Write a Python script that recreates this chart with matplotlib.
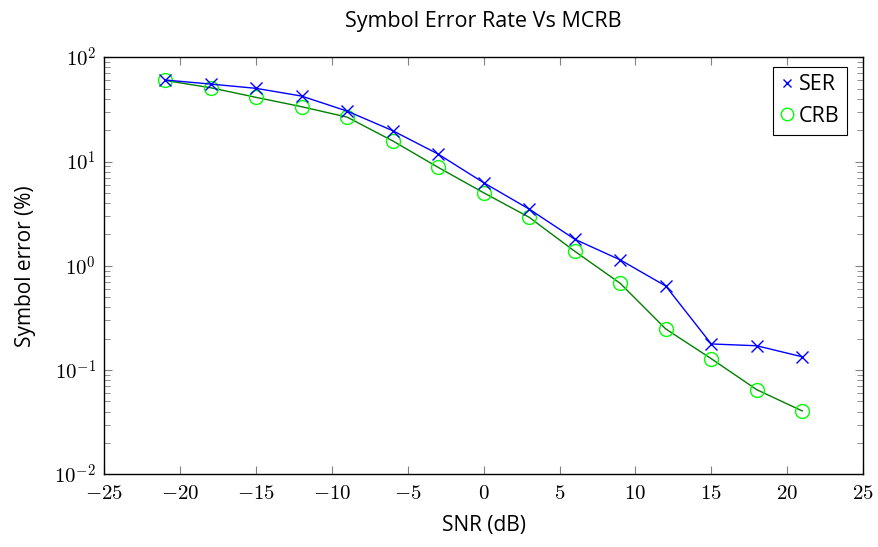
import matplotlib.pyplot as plt
from matplotlib.lines import Line2D
from matplotlib import ticker
import numpy as np

# данные
snr = [-21, -18, -15, -12, -9, -6, -3, 0, 3, 6, 9, 12, 15, 18, 21]
ser = [60.6, 55.4, 50.4, 42.5, 30.5, 19.8, 11.8, 6.27, 3.5, 1.80, 1.14, 0.64, 0.178, 0.171, 0.134]
crb = [60.0, 51.1, 41.3, 33.6, 26.7, 15.8, 8.8, 5.02, 2.92, 1.38, 0.679, 0.248, 0.1285, 0.0648, 0.0405]
x_ticks = [-25, -20, -15, -10, -5, 0, 5, 10, 15, 20, 25]

plt.rcParams['mathtext.fontset'] = 'cm'
plt.rcParams['font.family'] = ['Open Sans', 'DejaVu Sans']

fig = plt.figure(figsize=(8.79, 5.47), dpi=100)
ax = fig.add_axes([0.1187, 0.1329, 0.9818 - 0.1187, 0.8952 - 0.1329])

ax.plot(snr, ser, color='blue', lw=1.0, marker='x', ms=8, mew=1.0,
        mec='blue', zorder=3)
ax.plot(snr, crb, color='green', lw=1.0, marker='o', ms=10, mew=1.0,
        mec='#00ff00', mfc='none', zorder=2)

ax.set_yscale('log')
ax.set_xlim(-25, 25)
ax.set_ylim(1e-2, 1e2)

ax.set_xticks(x_ticks)
ax.xaxis.set_major_formatter(ticker.FuncFormatter(lambda v, p: r'$%d$' % v))
ax.yaxis.set_major_locator(ticker.LogLocator(base=10, numticks=10))
ax.yaxis.set_major_formatter(ticker.FuncFormatter(lambda v, p: r'$10^{%d}$' % round(np.log10(v))))
ax.yaxis.set_minor_locator(ticker.LogLocator(base=10, subs=np.arange(2, 10), numticks=20))
ax.yaxis.set_minor_formatter(ticker.NullFormatter())

ax.tick_params(which='both', direction='in', top=True, right=True, color='#808080')
ax.tick_params(which='major', length=6, width=0.8, labelsize=15, pad=6)
ax.tick_params(which='minor', length=4, width=0.6)
for s in ax.spines.values():
    s.set_linewidth(1.0)

ax.set_title('Symbol Error Rate Vs MCRB', fontsize=15.5, pad=22)
ax.set_xlabel('SNR (dB)', fontsize=15, labelpad=8)
ax.set_ylabel('Symbol error (%)', fontsize=15, labelpad=13)

handles = [Line2D([], [], ls='none', marker='x', color='blue', ms=6, mew=1.0),
           Line2D([], [], ls='none', marker='o', mec='#00ff00', mfc='none', ms=9, mew=1.0)]
leg = ax.legend(handles, ['SER', 'CRB'], loc='upper right', fontsize=15.5,
                bbox_to_anchor=(0.9785, 0.9775), borderaxespad=0,
                frameon=True, fancybox=False, edgecolor='black', framealpha=1,
                handlelength=0.6, handletextpad=0.25, borderpad=0.35,
                labelspacing=0.5)
leg.get_frame().set_linewidth(0.8)

fig.savefig('out.png', dpi=100)
